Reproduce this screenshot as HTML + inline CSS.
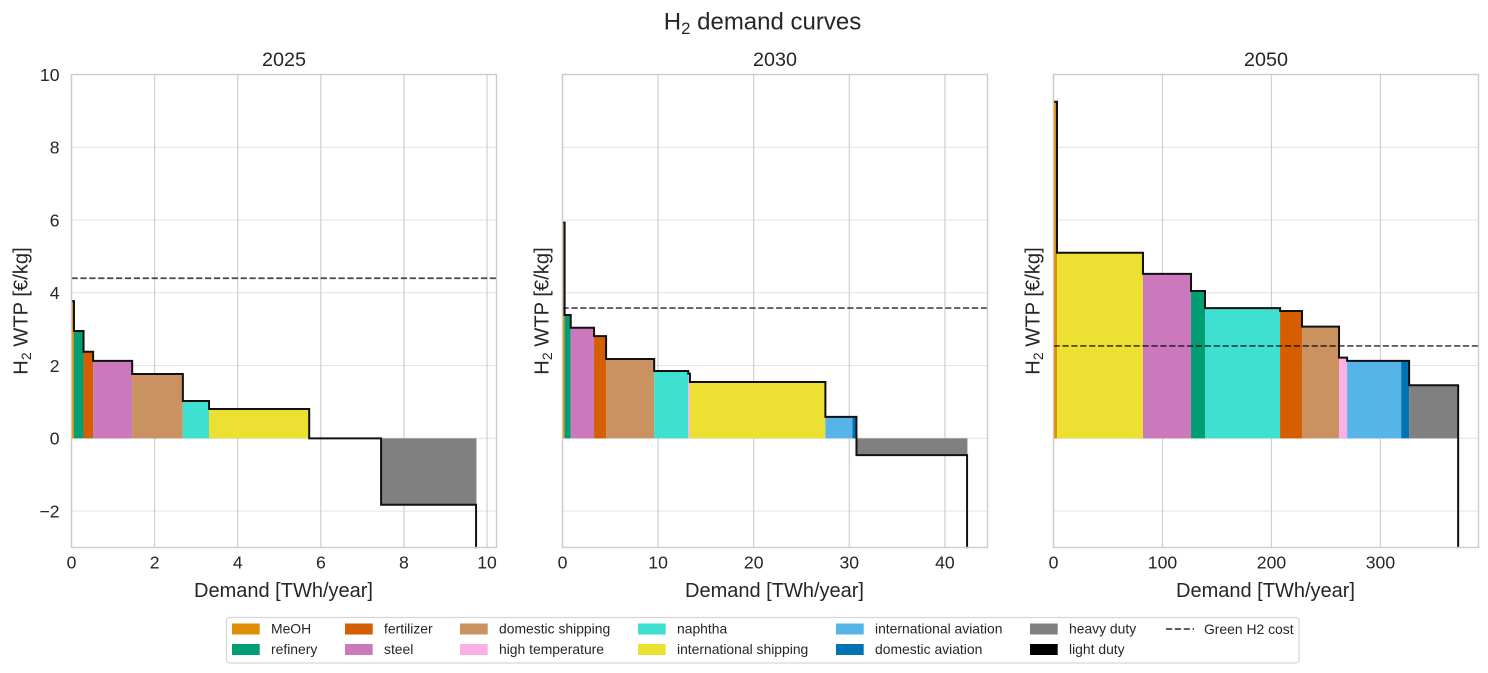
<!DOCTYPE html>
<html lang="en">
<head>
<meta charset="utf-8">
<title>H2 demand curves</title>
<style>
html,body{margin:0;padding:0;background:#fff;width:1488px;height:673px;overflow:hidden}
svg{display:block}
text{font-family:"Liberation Sans",Arial,sans-serif;fill:#262626}
</style>
</head>
<body>
<svg id="chart" xmlns="http://www.w3.org/2000/svg" width="1488" height="673" viewBox="0 0 1488 673">
  <text x="762.5" y="29.5" font-size="24" text-anchor="middle">H<tspan dy="4.5" font-size="16.8">2</tspan><tspan dy="-4.5"> demand curves</tspan></text>
</svg>
<script>
// ---- chart data ----
const years = ['2025', '2030', '2050'];
const yTicks = [-2, 0, 2, 4, 6, 8, 10];
const yMin = -3;
const yMax = 10;
const xTicks2025 = [0, 2, 4, 6, 8, 10];
const xTicks2030 = [0, 10, 20, 30, 40];
const xTicks2050 = [0, 100, 200, 300];

const sectors2025 = ['MeOH', 'refinery', 'fertilizer', 'steel', 'domestic shipping', 'naphtha', 'international shipping', 'international aviation', 'heavy duty', 'light duty'];
const demand2025 = [0.06, 0.23, 0.23, 0.94, 1.22, 0.63, 2.41, 1.73, 2.285, 0.005];
const wtp2025 = [3.77, 2.95, 2.38, 2.13, 1.77, 1.025, 0.805, 0, -1.825, -9];

const sectors2030 = ['MeOH', 'refinery', 'steel', 'fertilizer', 'domestic shipping', 'naphtha', 'high temperature', 'international shipping', 'international aviation', 'domestic aviation', 'heavy duty', 'light duty'];
const demand2030 = [0.22, 0.64, 2.44, 1.26, 5.03, 3.56, 0.18, 14.17, 2.83, 0.42, 11.57, 0.02];
const wtp2030 = [5.93, 3.39, 3.04, 2.81, 2.18, 1.85, 1.78, 1.55, 0.59, 0.59, -0.46, -9];

const sectors2050 = ['MeOH', 'international shipping', 'steel', 'refinery', 'naphtha', 'fertilizer', 'domestic shipping', 'high temperature', 'international aviation', 'domestic aviation', 'heavy duty', 'light duty'];
const demand2050 = [3.2, 78.9, 44.1, 12.8, 68.9, 20.1, 34, 7.4, 49.6, 7.3, 45, 0.1];
const wtp2050 = [9.25, 5.1, 4.52, 4.05, 3.58, 3.5, 3.07, 2.22, 2.13, 2.13, 1.46, -9];

const greenCost = [4.4, 3.58, 2.54];

const legendLabels = ['MeOH', 'refinery', 'fertilizer', 'steel', 'domestic shipping', 'high temperature', 'naphtha', 'international shipping', 'international aviation', 'domestic aviation', 'heavy duty', 'light duty'];
const legendColors = ['#de8f05', '#029e73', '#d55e00', '#cc78bc', '#ca9161', '#fbafe4', '#40e0d0', '#ece133', '#56b4e9', '#0173b2', '#808080', '#000000'];

// ---- drawing ----
const svg = document.getElementById('chart');
const NS = 'http://www.w3.org/2000/svg';
const plotLefts = [71.5, 562.5, 1053.5];
const plotWidth = 425;
const plotTop = 74.5;
const plotBottom = 547.5;
const allSectors = [sectors2025, sectors2030, sectors2050];
const allDemand = [demand2025, demand2030, demand2050];
const allWtp = [wtp2025, wtp2030, wtp2050];
const allXTicks = [xTicks2025, xTicks2030, xTicks2050];

function make(tag, attrs, parent) {
  const node = document.createElementNS(NS, tag);
  for (const k in attrs) node.setAttribute(k, attrs[k]);
  (parent || svg).appendChild(node);
  return node;
}
function colorOf(name) {
  return legendColors[legendLabels.indexOf(name)];
}
function yScale(v) {
  const c = Math.max(yMin, Math.min(yMax, v));
  return plotTop + (yMax - c) / (yMax - yMin) * (plotBottom - plotTop);
}
function sum(arr) {
  return arr.reduce(function (a, b) { return a + b; }, 0);
}

years.forEach(function (year, p) {
  const left = plotLefts[p];
  const right = left + plotWidth;
  const total = sum(allDemand[p]);
  const xMax = total * 1.05;
  const xScale = function (v) { return left + v / xMax * plotWidth; };

  const g = make('g', {});
  
  

  // horizontal grid
  yTicks.forEach(function (t) {
    const line = make('line', { x1: left, x2: right, y1: yScale(t), y2: yScale(t), stroke: '#e4e4e4', 'stroke-width': 1.1 }, g);
    
    
  });
  // vertical grid + x tick labels
  allXTicks[p].forEach(function (t) {
    const line = make('line', { x1: xScale(t), x2: xScale(t), y1: plotTop, y2: plotBottom, stroke: '#cfcfcf', 'stroke-width': 1.2 }, g);
    
    
    const label = make('text', { x: xScale(t), y: 568.5, 'font-size': 17.6, 'text-anchor': 'middle' }, g);
    label.textContent = String(t);
    
    
  });

  // filled demand blocks + step outline
  let cum = 0;
  let path = '';
  allDemand[p].forEach(function (w, i) {
    const v = allWtp[p][i];
    const x0 = xScale(cum);
    const x1 = xScale(cum + w);
    const y0 = yScale(0);
    const yv = yScale(v);
    const block = make('rect', { x: x0, y: Math.min(y0, yv), width: x1 - x0, height: Math.abs(yv - y0), fill: colorOf(allSectors[p][i]) }, g);
    
    
    path += (i === 0 ? 'M' : 'L') + x0 + ' ' + yv + 'L' + x1 + ' ' + yv;
    cum += w;
  });
  const outline = make('path', { d: path, fill: 'none', stroke: '#111', 'stroke-width': 2, 'stroke-linejoin': 'miter' }, g);
  
  

  // green hydrogen cost
  const cost = make('line', { x1: left, x2: right, y1: yScale(greenCost[p]), y2: yScale(greenCost[p]), stroke: '#000', 'stroke-opacity': 0.72, 'stroke-width': 1.65, 'stroke-dasharray': '6.25 2.65' }, g);
  
  

  // frame
  const frame = make('rect', { x: left, y: plotTop, width: plotWidth, height: plotBottom - plotTop, fill: 'none', stroke: '#cccccc', 'stroke-width': 1.4 }, g);
  
  

  // y tick labels only on first panel
  if (p === 0) {
    yTicks.forEach(function (t) {
      const label = make('text', { x: left - 12, y: yScale(t) + 6.3, 'font-size': 17.6, 'text-anchor': 'end' }, g);
      label.textContent = (t < 0 ? '\u2212' + Math.abs(t) : String(t));
      
      
    });
  }

  // titles
  const title = make('text', { x: left + plotWidth / 2, y: 66, 'font-size': 19.8, 'text-anchor': 'middle' }, g);
  title.textContent = year;
  
  

  const xTitle = make('text', { x: left + plotWidth / 2 - 0.5, y: 597, 'font-size': 20, 'text-anchor': 'middle' }, g);
  xTitle.textContent = 'Demand [TWh/year]';
  
  

  const yx = left - (p === 0 ? 44.5 : 14.5);
  const yTitle = make('text', { x: 0, y: 0, 'font-size': 20.2, 'text-anchor': 'middle', transform: 'translate(' + (yx + 0.5) + ' 311) rotate(-90)' }, g);
  
  
  make('tspan', {}, yTitle).textContent = 'H';
  make('tspan', { dy: 3.5, 'font-size': 14 }, yTitle).textContent = '2';
  make('tspan', { dy: -3.5 }, yTitle).textContent = ' WTP [\u20AC/kg]';
});

// ---- legend ----
const legend = make('g', {});


const legendBox = make('rect', { x: 226.5, y: 617.5, width: 1072.5, height: 45.5, rx: 3, fill: '#fff', stroke: '#d6d6d6', 'stroke-width': 1.2 }, legend);


const colHandleX = [232, 345, 460, 638, 836, 1030];
const colTextX = [271, 384, 499, 677, 875, 1069];
const rowHandleY = [623.5, 644];
const rowTextY = [633.5, 654];
legendLabels.forEach(function (name, i) {
  const col = Math.floor(i / 2);
  const row = i % 2;
  const entry = make('g', {}, legend);
  
  
  make('rect', { x: colHandleX[col], y: rowHandleY[row], width: 27.7, height: 11, fill: legendColors[i] }, entry);
  const txt = make('text', { x: colTextX[col], y: rowTextY[row], 'font-size': 13.9 }, entry);
  txt.textContent = name;
});
const costEntry = make('g', {}, legend);


make('line', { x1: 1166, x2: 1194, y1: 629, y2: 629, stroke: '#000', 'stroke-opacity': 0.72, 'stroke-width': 1.65, 'stroke-dasharray': '6.2 2.65' }, costEntry);
make('text', { x: 1204, y: 634, 'font-size': 13.9 }, costEntry).textContent = 'Green H2 cost';
</script>
</body>
</html>
